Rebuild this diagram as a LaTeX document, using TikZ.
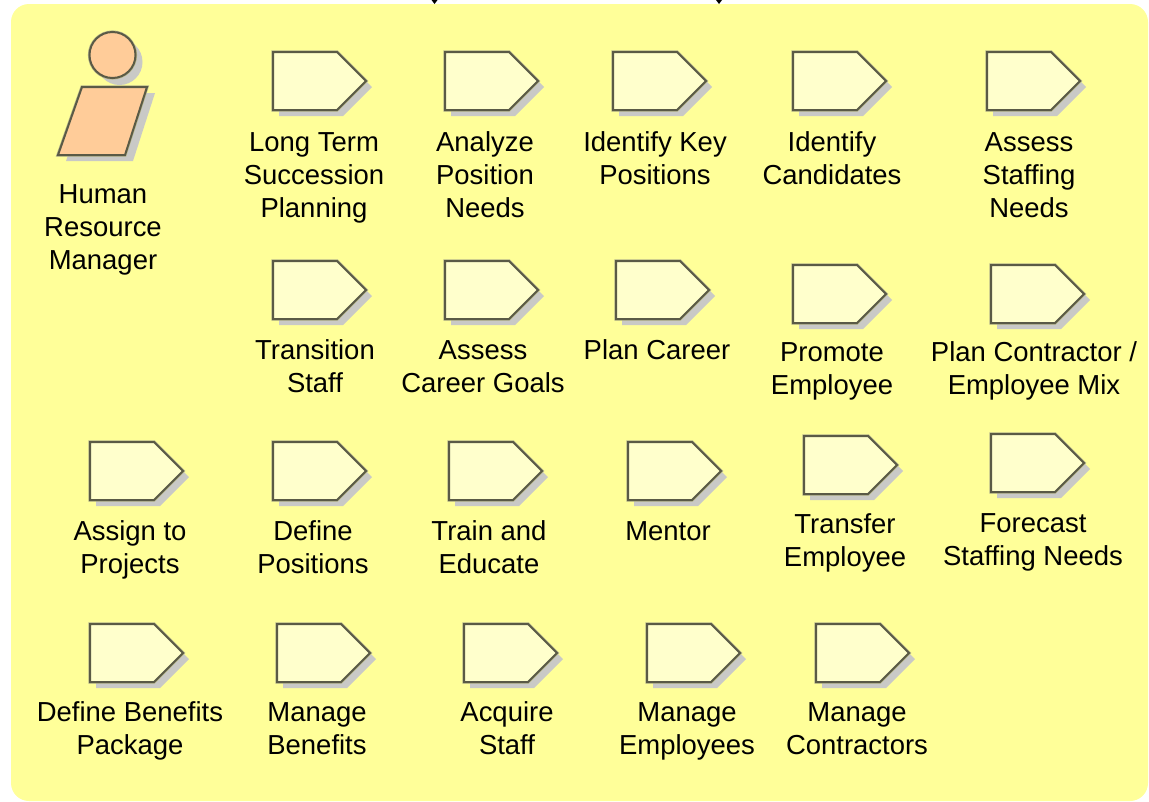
\documentclass[tikz,border=0pt]{standalone}
\usepackage{fontspec}
\setmainfont{Liberation Sans}
\definecolor{panel}{HTML}{FFFF99}
\definecolor{iconfill}{HTML}{FFFFCC}
\definecolor{iconline}{HTML}{5A5A46}
\definecolor{halo}{HTML}{B5B58A}
\definecolor{shade}{HTML}{C9C9C6}
\definecolor{actor}{HTML}{FFCC99}
\tikzset{
  x=0.75pt,y=-0.75pt,
  lbl/.style={anchor=north,inner sep=0pt,outer sep=0pt,align=center,text=black,
    font=\fontsize{20.6pt}{24.75pt}\selectfont},
  iconbody/.style={fill=iconfill,draw=iconline,line width=1.5pt,line join=miter,
    preaction={draw=halo,line width=2.4pt}},
  iconshade/.style={fill=shade,draw=none},
  actorbody/.style={fill=actor,draw=iconline,line width=1.5pt,
    preaction={draw=halo,line width=2.4pt}},
  tipmark/.style={fill=black,draw=none}
}
\newcommand{\lblstrut}{\rule{0pt}{15pt}}
% icon: left, top
\newcommand{\icon}[3]{%
  \fill[iconshade] (#2+6,#3+6) -- ++(64,0) -- ++(29,29) -- ++(-29,29) -- ++(-64,0) -- cycle;
  \path[iconbody] (#2,#3) coordinate (#1) -- ++(64,0) -- ++(29,29) -- ++(-29,29) -- ++(-64,0) -- cycle;
}
% label: name, centre x, first-line centre y, text
\newcommand{\lab}[4]{\node[lbl] (#1) at (#2,#3-10.5) {\lblstrut #4};}
\begin{document}
\begin{tikzpicture}
\useasboundingbox (0,0) rectangle (1149,801);
\fill[white] (0,0) rectangle (1149,801);
\fill[panel,rounded corners=13.5pt] (11,4) rectangle (1148,801);
\fill[tipmark] (431.5,0) -- (437.5,0) -- (434.5,4) -- cycle;
\fill[tipmark] (716,0) -- (722,0) -- (719,4) -- cycle;
% actor
\fill[iconshade] (119.5,62) circle (23);
\fill[iconshade] (90,93) -- (155,93) -- (133,161) -- (66,161) -- cycle;
\path[actorbody] (112.5,55) circle (23);
\path[actorbody] (82,87) -- (147,87) -- (125,155) -- (58,155) -- cycle;
\lab{hrm}{103}{194}{Human\\Resource\\Manager}
% row 1
\icon{i1}{273}{52} \lab{t1}{314}{142}{Long Term\\Succession\\Planning}
\icon{i2}{445}{52} \lab{t2}{485}{142}{Analyze\\Position\\Needs}
\icon{i3}{613}{52} \lab{t3}{655}{142}{Identify Key\\Positions}
\icon{i4}{793}{52} \lab{t4}{832}{142}{Identify\\Candidates}
\icon{i5}{987}{52} \lab{t5}{1029}{142}{Assess\\Staffing\\Needs}
% row 2
\icon{i6}{273}{261} \lab{t6}{315}{350}{Transition\\Staff}
\icon{i7}{445}{261} \lab{t7}{483}{350}{Assess\\Career Goals}
\icon{i8}{616}{261} \lab{t8}{657}{350}{Plan Career}
\icon{i9}{793}{265} \lab{t9}{832}{352}{Promote\\Employee}
\icon{i10}{991}{265} \lab{t10}{1034}{352}{Plan Contractor /\\Employee Mix}
% row 3
\icon{i11}{90}{442} \lab{t11}{130}{531}{Assign to\\Projects}
\icon{i12}{273}{442} \lab{t12}{313}{531}{Define\\Positions}
\icon{i13}{449}{442} \lab{t13}{489}{531}{Train and\\Educate}
\icon{i14}{628}{442} \lab{t14}{668}{531}{Mentor}
\icon{i15}{804}{436} \lab{t15}{845}{524}{Transfer\\Employee}
\icon{i16}{991}{434} \lab{t16}{1033}{523}{Forecast\\Staffing Needs}
% row 4
\icon{i17}{90}{624} \lab{t17}{130}{712}{Define Benefits\\Package}
\icon{i18}{277}{624} \lab{t18}{317}{712}{Manage\\Benefits}
\icon{i19}{464}{624} \lab{t19}{507}{712}{Acquire\\Staff}
\icon{i20}{647}{624} \lab{t20}{687}{712}{Manage\\Employees}
\icon{i21}{816}{624} \lab{t21}{857}{712}{Manage\\Contractors}
\end{tikzpicture}
\end{document}
